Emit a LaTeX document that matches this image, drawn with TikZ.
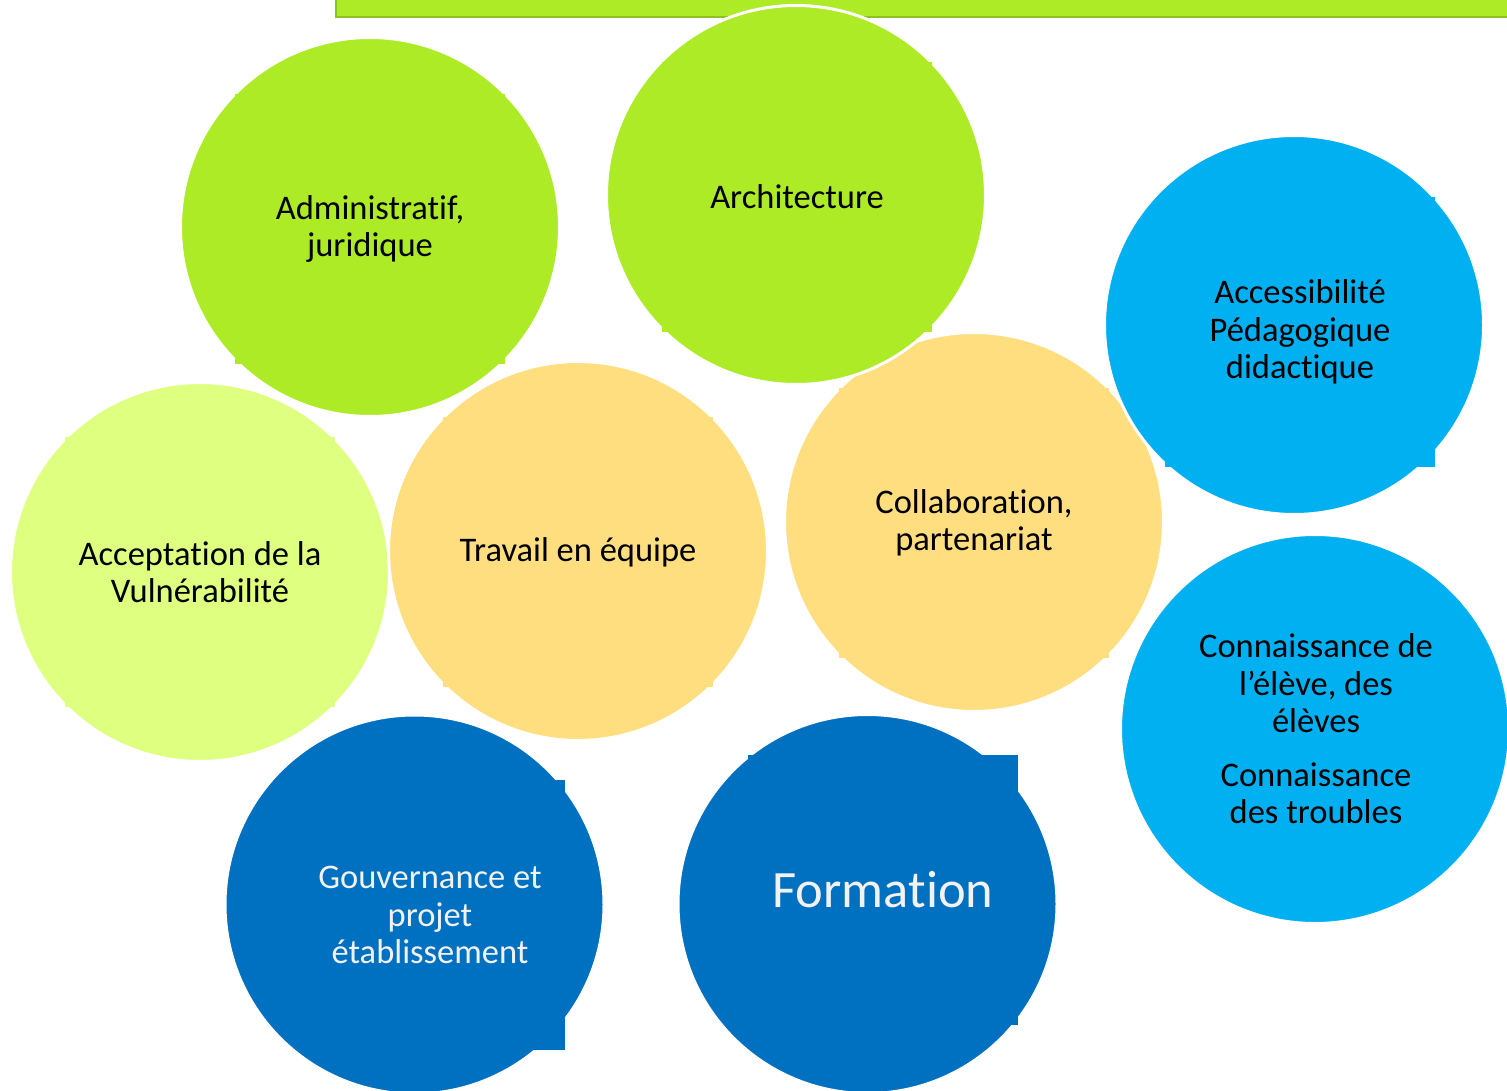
\documentclass[tikz,border=0pt]{standalone}
\usepackage{fontspec}
\setmainfont{Carlito}[Ligatures={NoCommon}]
\definecolor{grn}{HTML}{ADEB26}
\definecolor{grnD}{HTML}{8CC21E}
\definecolor{lime}{HTML}{DFFF80}
\definecolor{yel}{HTML}{FFDE80}
\definecolor{lblue}{HTML}{00B0F0}
\definecolor{dblue}{HTML}{0070C0}
\definecolor{wtext}{HTML}{F2F2F2}
\begin{document}
\begin{tikzpicture}[x=1pt,y=-1pt,
  disc/.style={circle, draw=white, line width=3pt, minimum size=379pt, inner sep=0pt},
  bigdisc/.style={circle, draw=white, line width=3pt, minimum size=389pt, inner sep=0pt},
  tbox/.style={rectangle, minimum width=270pt, minimum height=270pt, inner sep=0pt, align=center,
    font=\fontsize{34.5}{37.5}\selectfont},
]
\useasboundingbox (0,0) rectangle (1507,1091);
% top bar
\node[rectangle, fill=grn, draw=grnD, line width=2pt, minimum width=1200pt, minimum height=40pt,
  anchor=south west, inner sep=0pt] (bar) at (335,18) {};
% Collaboration
\node[disc, fill=yel] (c7) at (974,522) {};
\node[tbox, fill=yel] (t7) at (974,523) {Collaboration,\\partenariat};
% Architecture
\node[disc, fill=grn] (c2) at (796,195) {};
\node[tbox, fill=grn] (t2) at (797,197) {Architecture};
% Administratif
\node[disc, fill=grn] (c1) at (370,227) {};
\node[tbox, fill=grn] (t1) at (370,229) {Administratif,\\juridique};
% Acceptation
\node[disc, fill=lime] (c5) at (200,572) {};
\node[tbox, fill=lime] (t5) at (200,572) {Acceptation de la\\Vulnérabilité};
% Travail
\node[disc, fill=yel] (c6) at (578,551) {};
\node[tbox, fill=yel] (t6) at (578,552) {Travail en équipe};
% Accessibilite
\node[disc, fill=lblue] (c4) at (1294,325) {};
\node[tbox, fill=lblue] (t4) at (1300,332) {Accessibilité\\Pédagogique\\didactique};
% Connaissance
\node[bigdisc, fill=lblue] (c8) at (1315,729) {};
\node[tbox, fill=lblue] (t8) at (1316,729) {Connaissance de\\l’élève, des\\élèves\\[16pt]Connaissance\\des troubles};
% Gouvernance
\node[disc, fill=dblue] (c9) at (414.5,904.5) {};
\node[tbox, fill=dblue, text=wtext] (t9) at (430,915) {Gouvernance et\\projet\\établissement};
% Formation
\node[disc, fill=dblue] (c10) at (867.5,904) {};
\node[tbox, fill=dblue, text=wtext, font=\fontsize{52.5}{60}\selectfont] (t10) at (883,890) {Formation};
\end{tikzpicture}
\end{document}
